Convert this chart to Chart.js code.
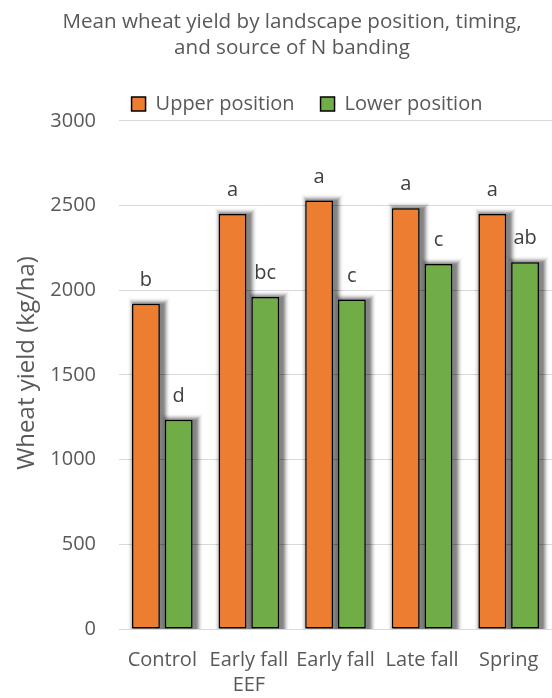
<!DOCTYPE html>
<html>
<head>
<meta charset="utf-8">
<script src="https://cdn.jsdelivr.net/npm/chart.js@4/dist/chart.umd.min.js"></script>
<style>
  html, body { margin: 0; padding: 0; background: #ffffff; }
  #wrap { width: 552px; height: 698px; }
</style>
</head>
<body>
<div id="wrap"><canvas id="chart" width="552" height="698"></canvas></div>
<script>
// Treatments (multi-line labels as arrays)
const categories = [['Control'], ['Early fall', 'EEF'], ['Early fall'], ['Late fall'], ['Spring']];
// Mean wheat yield, kg/ha
const upperYield = [1920, 2450, 2530, 2485, 2450];
const lowerYield = [1235, 1960, 1945, 2155, 2165];
// Mean-separation letters
const upperLetters = ['b', 'a', 'a', 'a', 'a'];
const lowerLetters = ['d', 'bc', 'c', 'c', 'ab'];
// Y axis
const yMin = 0, yMax = 3000, yStep = 500;
const yTitle = 'Wheat yield (kg/ha)';

const FONT = '"Open Sans"';
const GREY = '#595959';

// Soft drop shadow behind each bar: nested rectangles whose combined
// opacity follows a Gaussian fall-off away from an offset core
const barShadow = {
  id: 'barShadow',
  beforeDatasetsDraw(chart) {
    const ctx = chart.ctx, a = chart.chartArea;
    const dx = 3, dy = 1, spread = 9, peak = 0.5, sigma = 2.8;
    const target = r => peak * Math.exp(-((r - 0.5) * (r - 0.5)) / (2 * sigma * sigma));
    ctx.save();
    ctx.beginPath();
    ctx.rect(a.left, 0, a.right - a.left, a.bottom);
    ctx.clip();
    ctx.fillStyle = '#000';
    chart.data.datasets.forEach((ds, i) => {
      chart.getDatasetMeta(i).data.forEach(bar => {
        const p = bar.getProps(['x', 'y', 'base', 'width'], true);
        const x0 = p.x - p.width / 2 + dx, y0 = p.y + dy;
        const w = p.width, h = p.base - p.y;
        let prev = 0;
        for (let r = spread; r >= 0; r--) {
          const t = r === 0 ? peak : target(r);
          ctx.globalAlpha = Math.max(0, (t - prev) / (1 - prev));
          ctx.fillRect(x0 - r, y0 - r, w + 2 * r, h + 2 * r);
          prev = t;
        }
      });
    });
    ctx.restore();
  }
};

// Letters above each bar
const barLetters = {
  id: 'barLetters',
  afterDatasetsDraw(chart) {
    const ctx = chart.ctx;
    const sets = [upperLetters, lowerLetters];
    ctx.save();
    ctx.font = '20px ' + FONT;
    ctx.fillStyle = '#404040';
    ctx.textAlign = 'center';
    ctx.textBaseline = 'alphabetic';
    chart.data.datasets.forEach((ds, i) => {
      chart.getDatasetMeta(i).data.forEach((bar, j) => {
        const p = bar.getProps(['x', 'y'], true);
        ctx.fillText(sets[i][j], p.x, p.y - 18);
      });
    });
    ctx.restore();
  }
};

// Rotated value-axis title, set slightly above the middle of the plot
const valueAxisTitle = {
  id: 'valueAxisTitle',
  afterDraw(chart) {
    const ctx = chart.ctx, a = chart.chartArea;
    ctx.save();
    ctx.translate(27, (a.top + a.bottom) / 2 - 12);
    ctx.rotate(-Math.PI / 2);
    ctx.font = '24px ' + FONT;
    ctx.fillStyle = GREY;
    ctx.textAlign = 'center';
    ctx.textBaseline = 'middle';
    ctx.fillText(yTitle, 0, 0);
    ctx.restore();
  }
};

// Place the title and legend blocks
const headerOffset = {
  id: 'headerOffset',
  afterLayout(chart) {
    const t = chart.titleBlock, l = chart.legend;
    if (t) { t.left += 8.5; t.right += 8.5; t.top += 10; t.bottom += 10; }
    if (l) { l.left += 23.5; l.right += 23.5; l.top += 3; l.bottom += 3; }
  }
};

new Chart(document.getElementById('chart'), {
  type: 'bar',
  data: {
    labels: categories,
    datasets: [
      {
        label: 'Upper position',
        data: upperYield,
        backgroundColor: '#ED7D31',
        borderColor: '#000000',
        borderWidth: 1.5,
        borderSkipped: false,
        categoryPercentage: 0.756,
        barPercentage: 0.85
      },
      {
        label: 'Lower position',
        data: lowerYield,
        backgroundColor: '#70AD47',
        borderColor: '#000000',
        borderWidth: 1.5,
        borderSkipped: false,
        categoryPercentage: 0.756,
        barPercentage: 0.85
      }
    ]
  },
  options: {
    responsive: false,
    devicePixelRatio: 1,
    animation: false,
    layout: { padding: { left: 12, right: -3, top: -1, bottom: -19 } },
    plugins: {
      title: {
        display: true,
        text: ['Mean wheat yield by landscape position, timing,', 'and source of N banding'],
        color: GREY,
        font: { family: FONT, size: 20.6, weight: 'normal', lineHeight: 1.26 },
        padding: { top: 0, bottom: 14 }
      },
      legend: {
        display: true,
        position: 'top',
        labels: {
          color: GREY,
          font: { family: FONT, size: 20 },
          boxWidth: 14,
          boxHeight: 14,
          padding: 26
        }
      },
      tooltip: { enabled: false }
    },
    scales: {
      x: {
        grid: { display: false, drawTicks: false },
        border: { display: false },
        ticks: {
          color: GREY,
          font: { family: FONT, size: 20, lineHeight: 1.25 },
          autoSkip: false,
          maxRotation: 0,
          minRotation: 0,
          padding: 19
        },
        afterFit(scale) {
          scale.paddingLeft = 0;
          scale.paddingRight = 0;
        }
      },
      y: {
        min: yMin,
        max: yMax,
        grid: { color: '#D9D9D9', lineWidth: 1, drawTicks: false },
        border: { display: false },
        ticks: {
          stepSize: yStep,
          color: GREY,
          font: { family: FONT, size: 20 },
          padding: 23,
          callback: v => String(v)
        },
        afterFit(scale) {
          scale.width = 107;
        }
      }
    }
  },
  plugins: [barShadow, barLetters, valueAxisTitle, headerOffset]
});
</script>
</body>
</html>
